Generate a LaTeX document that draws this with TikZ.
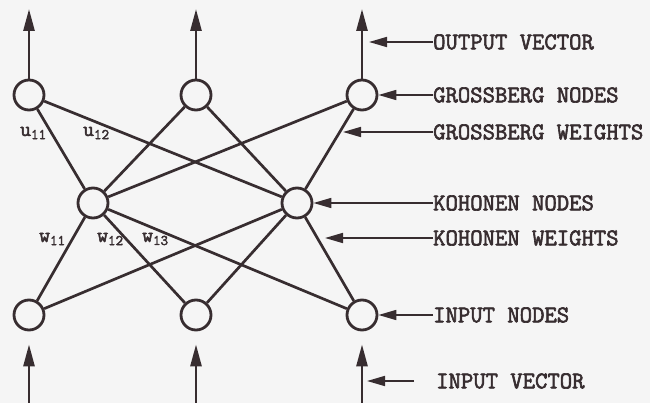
\documentclass[tikz,border=0pt]{standalone}
\usepackage{fontspec}
\newfontfamily\typefont{Latin Modern Mono}[FakeBold=2.5]
\usetikzlibrary{arrows.meta}
\definecolor{ink}{RGB}{55,45,48}
\definecolor{paper}{RGB}{245,245,245}

\begin{document}
\begin{tikzpicture}[x=1pt,y=-1pt]
 \tikzset{neuron/.style={
    circle, draw=ink, line width=2.8pt,
    minimum size=30pt, inner sep=0pt
  },
  link/.style={draw=ink, line width=2.7pt},
  bigarrow/.style={link, -{Triangle[length=22pt,width=11pt]}},
  pointer/.style={draw=ink, line width=1.7pt,
    -{Triangle[length=18pt,width=10pt]}},
  caption/.style={anchor=west, inner sep=0pt, text=ink,
    font=\typefont\fontsize{24}{26}\selectfont},
  weight/.style={anchor=west, inner sep=0pt, text=ink,
    font=\typefont\fontsize{21}{23}\selectfont}
}
\fill[paper] (0,0) rectangle (650,403);
\useasboundingbox (0,0) rectangle (650,403);

% layers
\node[neuron] (g1) at (29,95) {};
\node[neuron] (g2) at (196,95) {};
\node[neuron] (g3) at (362,95) {};
\node[neuron] (k1) at (93,203) {};
\node[neuron] (k2) at (297,203) {};
\node[neuron] (i1) at (29,315) {};
\node[neuron] (i2) at (196,315) {};
\node[neuron] (i3) at (362,315) {};

\foreach \k in {k1,k2}
  \foreach \n in {g1,g2,g3,i1,i2,i3}
    \draw[link] (\n) -- (\k);

% vectors
\foreach \n/\x in {1/29,2/196,3/362} {
  \coordinate (out\n) at (\x,9);
  \coordinate (in\n) at (\x,404);
  \draw[bigarrow] (g\n) -- (out\n);
  \draw[bigarrow, shorten >=13pt] (in\n) -- (i\n);
}

% weights
\node[weight] (u11) at (20,133) {u\textsubscript{11}};
\node[weight] (u12) at (83,133) {u\textsubscript{12}};
\node[weight] (w11) at (39,239) {w\textsubscript{11}};
\node[weight] (w12) at (97,239) {w\textsubscript{12}};
\node[weight] (w13) at (142,239) {w\textsubscript{13}};

% captions
\node[caption] (lout) at (433,42) {OUTPUT VECTOR};
\node[caption] (lgn) at (433,95) {GROSSBERG NODES};
\node[caption] (lgw) at (433,132) {GROSSBERG WEIGHTS};
\node[caption] (lkn) at (433,203) {KOHONEN NODES};
\node[caption] (lkw) at (433,238) {KOHONEN WEIGHTS};
\node[caption] (lin) at (433,315) {INPUT NODES};
\node[caption] (liv) at (436,381) {INPUT VECTOR};

\coordinate (pout) at (369,42);
\coordinate (pgw) at (343,132);
\coordinate (pkw) at (325,238);
\coordinate (piv) at (367,381);

\draw[pointer] (lout.west) -- (pout);
\draw[pointer] (lgn.west) -- (g3.east);
\draw[pointer] (lgw.west) -- (pgw);
\draw[pointer] (lkn.west) -- (k2.east);
\draw[pointer] (lkw.west) -- (pkw);
\draw[pointer] (lin.west) -- (i3.east);
\draw[pointer, shorten <=22pt] (liv.west) -- (piv);
\end{tikzpicture}
\end{document}
